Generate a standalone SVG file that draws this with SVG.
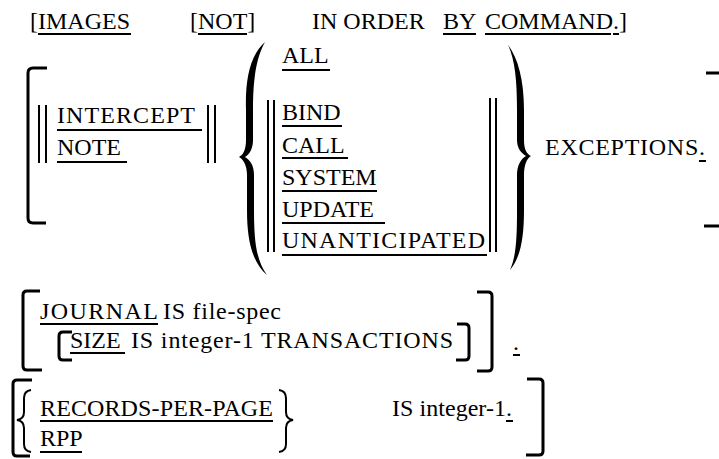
<svg xmlns="http://www.w3.org/2000/svg" width="719" height="459" viewBox="0 0 719 459">
<style>
text{font-family:'Liberation Serif','Times New Roman',serif;font-size:24px;fill:#000}
.u{stroke:#000;stroke-width:2;fill:none}
.b{fill:none;stroke:#000;stroke-width:3}
.v{stroke:#000;stroke-width:2}
.br{fill:#000;stroke:none}
</style>
<rect width="719" height="459" fill="#fff"/>
<g id="line1">
<text x="30" y="29">[IMAGES</text>
<text x="190" y="29">[NOT]</text>
<text x="312" y="29">IN ORDER</text>
<text x="443" y="29">BY</text>
<text x="485" y="29">COMMAND.]</text>
<path class="u" d="M38,34H131M198,34H247M443,34H476M485,34H611M613,34H619"/>
</g>
<g id="exceptions">
<path class="b" d="M47,68H33Q28,68 28,73V218Q28,223 33,223H46"/>
<path class="v" d="M39,105V163M46,105V163M208,105V163M215,105V163"/>
<text x="57" y="123" textLength="138">INTERCEPT</text>
<text x="57" y="155">NOTE</text>
<path class="u" d="M57,130H202M57,162H127"/>
<path class="br" d="M265,42C250,55 245,80 246,110L246,140C246,150 243,155 239,157C243,159 247,165 247,175L247,210C247,240 252,262 267,275C256,260 254,240 254,210L254,175C254,165 250,160 245,157C250,154 253,148 253,140L253,110C253,80 256,58 265,42Z"/>
<path class="v" d="M268,100V252M274,100V252M490,98V252M496,98V252"/>
<text x="282" y="63">ALL</text>
<text x="282" y="120">BIND</text>
<text x="282" y="153">CALL</text>
<text x="282" y="185">SYSTEM</text>
<text x="282" y="217">UPDATE</text>
<text x="282" y="248" textLength="203">UNANTICIPATED</text>
<path class="u" d="M282,70H330M282,126H342M282,158H348M282,191H377M282,223H385M282,255H487"/>
<path class="br" d="M508,45C518,58 524,80 524,110L524,140C524,150 527,154 531,156C527,158 524,165 524,175L524,210C524,240 520,258 510,270C516,256 517,240 517,210L517,175C517,165 521,159 526,156C521,153 517,148 517,140L517,110C517,80 515,60 508,45Z"/>
<text x="545" y="155" textLength="160">EXCEPTIONS.</text>
<path class="u" d="M699,161H706"/>
<path class="b" d="M706,73H719M704,226H719"/>
</g>
<g id="journal">
<path class="b" d="M40,291H27Q23,291 23,295V366Q23,370 27,370H42"/>
<text x="40" y="319" textLength="118">JOURNAL</text>
<text x="163" y="319" textLength="118">IS file-spec</text>
<path class="u" d="M40,324H158"/>
<path class="b" d="M72,332H63Q59,332 59,336V356Q59,360 63,360H72"/>
<text x="70" y="348">SIZE</text>
<text x="131" y="348" textLength="322">IS integer-1 TRANSACTIONS</text>
<path class="u" d="M70,353H125"/>
<path class="b" d="M457,324H465Q469,324 469,328V356Q469,360 465,360H456"/>
<path class="b" d="M477,292H488Q492,292 492,296V367Q492,371 488,371H477"/>
<text x="513" y="350">.</text>
<path class="u" d="M513,355H520"/>
</g>
<g id="rpp">
<path class="b" d="M32,380H17Q13,380 13,384V452Q13,456 17,456H30"/>
<path class="u" d="M31,390Q24,391 24,398V412Q24,419 17,420Q24,421 24,428V444Q24,451 31,452"/>
<text x="40" y="416" textLength="233">RECORDS-PER-PAGE</text>
<text x="40" y="446">RPP</text>
<path class="u" d="M40,421H273M40,452H82"/>
<path class="u" d="M279,390Q286,391 286,398V412Q286,419 293,420Q286,421 286,428V444Q286,451 279,452"/>
<text x="392" y="416" textLength="120">IS integer-1.</text>
<path class="u" d="M506,421H513"/>
<path class="b" d="M527,379H539Q543,379 543,383V451Q543,455 539,455H526"/>
</g>
</svg>
